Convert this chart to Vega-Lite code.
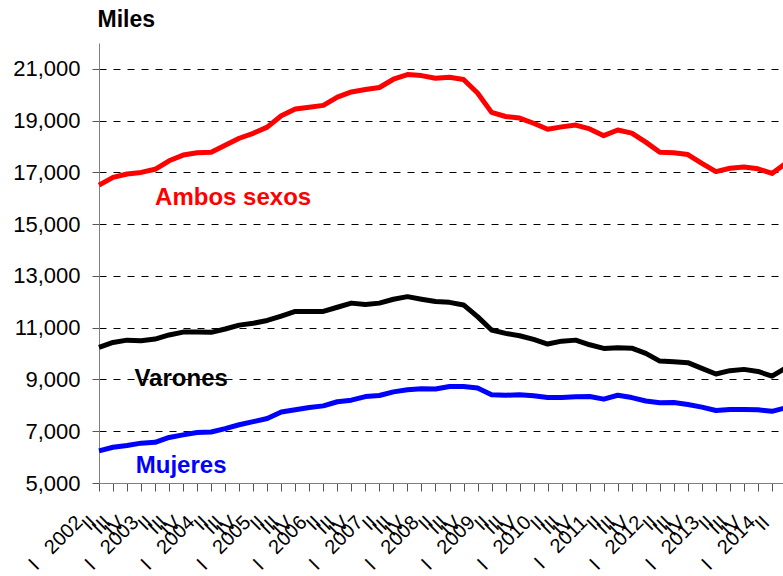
{
  "$schema": "https://vega.github.io/schema/vega-lite/v6.json",
  "width": 684,
  "height": 440,
  "autosize": "none",
  "padding": {"left": 99, "top": 43, "right": 0, "bottom": 93},
  "background": "white",
  "config": {"view": {"stroke": null}, "font": "Liberation Sans"},
  "datasets": {
    "series": [
      {"t": "2002T1", "Ambos sexos": 16510, "Varones": 10240, "Mujeres": 6240},
      {"t": "2002T2", "Ambos sexos": 16810, "Varones": 10430, "Mujeres": 6380},
      {"t": "2002T3", "Ambos sexos": 16940, "Varones": 10520, "Mujeres": 6450},
      {"t": "2002T4", "Ambos sexos": 17000, "Varones": 10500, "Mujeres": 6540},
      {"t": "2003T1", "Ambos sexos": 17120, "Varones": 10560, "Mujeres": 6570},
      {"t": "2003T2", "Ambos sexos": 17450, "Varones": 10720, "Mujeres": 6760},
      {"t": "2003T3", "Ambos sexos": 17670, "Varones": 10830, "Mujeres": 6860},
      {"t": "2003T4", "Ambos sexos": 17760, "Varones": 10830, "Mujeres": 6950},
      {"t": "2004T1", "Ambos sexos": 17780, "Varones": 10820, "Mujeres": 6970},
      {"t": "2004T2", "Ambos sexos": 18050, "Varones": 10950, "Mujeres": 7100},
      {"t": "2004T3", "Ambos sexos": 18320, "Varones": 11100, "Mujeres": 7250},
      {"t": "2004T4", "Ambos sexos": 18510, "Varones": 11170, "Mujeres": 7370},
      {"t": "2005T1", "Ambos sexos": 18750, "Varones": 11280, "Mujeres": 7490},
      {"t": "2005T2", "Ambos sexos": 19190, "Varones": 11450, "Mujeres": 7740},
      {"t": "2005T3", "Ambos sexos": 19450, "Varones": 11630, "Mujeres": 7830},
      {"t": "2005T4", "Ambos sexos": 19520, "Varones": 11630, "Mujeres": 7920},
      {"t": "2006T1", "Ambos sexos": 19590, "Varones": 11630, "Mujeres": 7980},
      {"t": "2006T2", "Ambos sexos": 19910, "Varones": 11790, "Mujeres": 8140},
      {"t": "2006T3", "Ambos sexos": 20110, "Varones": 11950, "Mujeres": 8200},
      {"t": "2006T4", "Ambos sexos": 20200, "Varones": 11900, "Mujeres": 8340},
      {"t": "2007T1", "Ambos sexos": 20280, "Varones": 11950, "Mujeres": 8380},
      {"t": "2007T2", "Ambos sexos": 20600, "Varones": 12100, "Mujeres": 8520},
      {"t": "2007T3", "Ambos sexos": 20780, "Varones": 12200, "Mujeres": 8600},
      {"t": "2007T4", "Ambos sexos": 20740, "Varones": 12100, "Mujeres": 8640},
      {"t": "2008T1", "Ambos sexos": 20640, "Varones": 12010, "Mujeres": 8630},
      {"t": "2008T2", "Ambos sexos": 20680, "Varones": 11980, "Mujeres": 8730},
      {"t": "2008T3", "Ambos sexos": 20590, "Varones": 11880, "Mujeres": 8730},
      {"t": "2008T4", "Ambos sexos": 20070, "Varones": 11430, "Mujeres": 8670},
      {"t": "2009T1", "Ambos sexos": 19320, "Varones": 10910, "Mujeres": 8410},
      {"t": "2009T2", "Ambos sexos": 19160, "Varones": 10780, "Mujeres": 8390},
      {"t": "2009T3", "Ambos sexos": 19100, "Varones": 10690, "Mujeres": 8410},
      {"t": "2009T4", "Ambos sexos": 18900, "Varones": 10550, "Mujeres": 8370},
      {"t": "2010T1", "Ambos sexos": 18670, "Varones": 10370, "Mujeres": 8300},
      {"t": "2010T2", "Ambos sexos": 18760, "Varones": 10480, "Mujeres": 8300},
      {"t": "2010T3", "Ambos sexos": 18830, "Varones": 10520, "Mujeres": 8330},
      {"t": "2010T4", "Ambos sexos": 18680, "Varones": 10340, "Mujeres": 8340},
      {"t": "2011T1", "Ambos sexos": 18420, "Varones": 10200, "Mujeres": 8240},
      {"t": "2011T2", "Ambos sexos": 18640, "Varones": 10230, "Mujeres": 8390},
      {"t": "2011T3", "Ambos sexos": 18520, "Varones": 10210, "Mujeres": 8300},
      {"t": "2011T4", "Ambos sexos": 18170, "Varones": 10010, "Mujeres": 8170},
      {"t": "2012T1", "Ambos sexos": 17780, "Varones": 9710, "Mujeres": 8100},
      {"t": "2012T2", "Ambos sexos": 17760, "Varones": 9680, "Mujeres": 8110},
      {"t": "2012T3", "Ambos sexos": 17690, "Varones": 9650, "Mujeres": 8030},
      {"t": "2012T4", "Ambos sexos": 17350, "Varones": 9430, "Mujeres": 7930},
      {"t": "2013T1", "Ambos sexos": 17030, "Varones": 9210, "Mujeres": 7800},
      {"t": "2013T2", "Ambos sexos": 17160, "Varones": 9340, "Mujeres": 7840},
      {"t": "2013T3", "Ambos sexos": 17210, "Varones": 9390, "Mujeres": 7840},
      {"t": "2013T4", "Ambos sexos": 17140, "Varones": 9310, "Mujeres": 7830},
      {"t": "2014T1", "Ambos sexos": 16960, "Varones": 9130, "Mujeres": 7770},
      {"t": "2014T2", "Ambos sexos": 17360, "Varones": 9450, "Mujeres": 7910}
    ],
    "labels": [
      {"t": "2003T1", "valor": 15744, "serie": "Ambos sexos", "texto": "Ambos sexos", "pos": "left"},
      {"t": "2003T3", "valor": 8749, "serie": "Varones", "texto": "Varones", "pos": "center"},
      {"t": "2003T3", "valor": 5386, "serie": "Mujeres", "texto": "Mujeres", "pos": "center"}
    ]
  },
  "layer": [
    {
      "data": {"name": "series"},
      "transform": [{"fold": ["Ambos sexos", "Varones", "Mujeres"], "as": ["serie", "valor"]}],
      "mark": {"type": "line", "strokeWidth": 5, "strokeJoin": "round", "clip": false},
      "encoding": {
        "x": {
          "field": "t",
          "type": "ordinal",
          "scale": {"type": "point", "padding": 0, "range": [0, 687]},
          "axis": {
            "title": null,
            "labelExpr": "substring(datum.value,5,6) == '1' ? 'I\u00a0\u00a0\u00a0' + substring(datum.value,0,4) : substring(datum.value,5,6) == '2' ? 'II' : substring(datum.value,5,6) == '3' ? 'III' : 'IV'",
            "labelAngle": -45,
            "labelAlign": "right",
            "labelBaseline": "middle",
            "labelFontSize": 20,
            "labelColor": "#000000",
            "labelOffset": -20,
            "labelPadding": 28,
            "labelOverlap": false,
            "labelBound": false,
            "labelFlush": false,
            "labelLimit": 0,
            "tickSize": 8,
            "tickColor": "#555555",
            "domainColor": "#808080",
            "grid": false
          }
        },
        "y": {
          "field": "valor",
          "type": "quantitative",
          "scale": {"domain": [5000, 22000], "nice": false, "zero": false},
          "axis": {
            "values": [5000, 7000, 9000, 11000, 13000, 15000, 17000, 19000, 21000],
            "format": ",.0f",
            "labelFontSize": 22,
            "labelColor": "#000000",
            "labelPadding": 12,
            "tickSize": 7,
            "tickColor": "#555555",
            "domainColor": "#808080",
            "grid": true,
            "gridColor": "#000000",
            "gridDash": [7, 7],
            "gridWidth": 1,
            "gridOpacity": {"condition": {"test": "datum.value == 5000", "value": 0}, "value": 1},
            "title": "Miles",
            "titleAngle": 0,
            "titleAlign": "left",
            "titleBaseline": "alphabetic",
            "titleX": -2,
            "titleY": -17,
            "titleFontSize": 23,
            "titleFontWeight": "bold",
            "titleColor": "#000000"
          }
        },
        "color": {
          "field": "serie",
          "type": "nominal",
          "scale": {"domain": ["Ambos sexos", "Varones", "Mujeres"], "range": ["#ff0000", "#000000", "#0000ff"]},
          "legend": null
        }
      }
    },
    {
      "data": {"name": "labels"},
      "transform": [{"filter": "datum.pos == 'left'"}],
      "mark": {"type": "text", "align": "left", "baseline": "alphabetic", "fontSize": 24, "fontWeight": "bold"},
      "encoding": {
        "x": {"field": "t", "type": "ordinal"},
        "y": {"field": "valor", "type": "quantitative"},
        "text": {"field": "texto"},
        "color": {"field": "serie", "type": "nominal"}
      }
    },
    {
      "data": {"name": "labels"},
      "transform": [{"filter": "datum.pos == 'center'"}],
      "mark": {"type": "text", "align": "center", "baseline": "alphabetic", "fontSize": 24, "fontWeight": "bold", "dx": -2},
      "encoding": {
        "x": {"field": "t", "type": "ordinal"},
        "y": {"field": "valor", "type": "quantitative"},
        "text": {"field": "texto"},
        "color": {"field": "serie", "type": "nominal"}
      }
    }
  ]
}
